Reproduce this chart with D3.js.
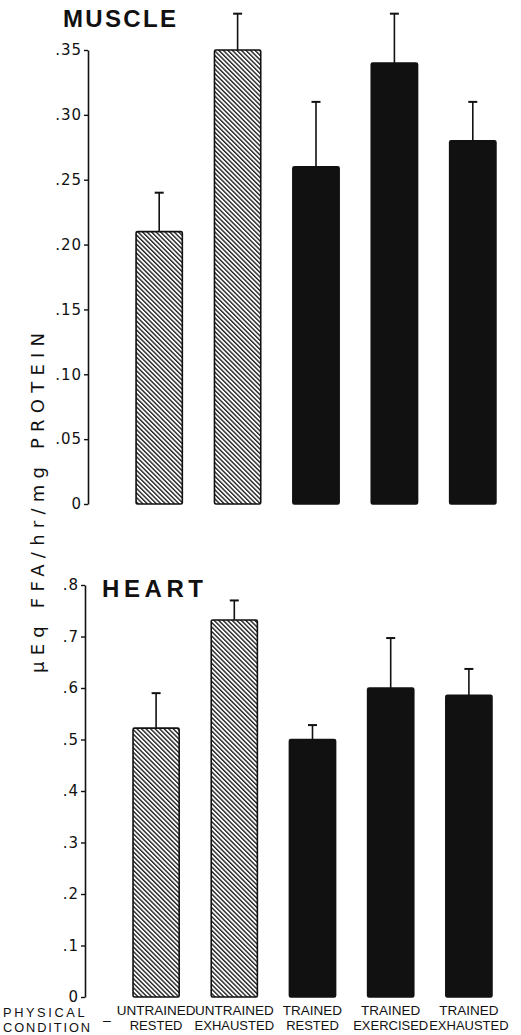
<!DOCTYPE html>
<html>
<head>
<meta charset="utf-8">
<script src="https://cdn.jsdelivr.net/npm/d3@7"></script>
<style>
  html, body { margin: 0; padding: 0; background: #fff; }
  svg { display: block; }
</style>
</head>
<body>
<svg id="chart" width="521" height="1035"></svg>
<script>
// ---- data ----
const categories = ["UNTRAINED RESTED", "UNTRAINED EXHAUSTED", "TRAINED RESTED", "TRAINED EXERCISED", "TRAINED EXHAUSTED"];
const catLine1 = ["UNTRAINED", "UNTRAINED", "TRAINED", "TRAINED", "TRAINED"];
const catLine2 = ["RESTED", "EXHAUSTED", "RESTED", "EXERCISED", "EXHAUSTED"];
const trained = [false, false, true, true, true];

const muscleMean = [0.21, 0.35, 0.26, 0.34, 0.28];
const muscleErr  = [0.03, 0.028, 0.05, 0.038, 0.03];
const muscleTicks = [0, 0.05, 0.10, 0.15, 0.20, 0.25, 0.30, 0.35];
const muscleTickLabels = ["0", ".05", ".10", ".15", ".20", ".25", ".30", ".35"];

const heartMean = [0.522, 0.732, 0.50, 0.60, 0.586];
const heartErr  = [0.068, 0.038, 0.028, 0.097, 0.051];
const heartTicks = [0, 0.1, 0.2, 0.3, 0.4, 0.5, 0.6, 0.7, 0.8];
const heartTickLabels = ["0", ".1", ".2", ".3", ".4", ".5", ".6", ".7", ".8"];

const yLabel = "\u03BCEq FFA/hr/mg PROTEIN";

// ---- drawing ----
const svg = d3.select("#chart");
const defs = svg.append("defs");
const pat = defs.append("pattern")
  .attr("id", "hatch")
  .attr("patternUnits", "userSpaceOnUse")
  .attr("width", 3.2).attr("height", 3.2)
  .attr("patternTransform", "rotate(-45)");
pat.append("rect").attr("width", 3.2).attr("height", 3.2).attr("fill", "#fff");
pat.append("rect").attr("x", 0).attr("y", 0).attr("width", 1.4).attr("height", 3.2).attr("fill", "#222");

const tickFont = "'DejaVu Sans', sans-serif";
const labFont = "'Liberation Sans', Arial, sans-serif";

function panel(cfg) {
  const g = svg.append("g");
  const x = d3.scaleBand().domain(categories).range(cfg.xRange)
    .paddingInner(0.41).paddingOuter(0.205);
  const y = d3.scaleLinear().domain(cfg.domain).range(cfg.yRange);

  const axis = d3.axisLeft(y)
    .tickValues(cfg.ticks)
    .tickFormat((d, i) => cfg.tickLabels[i])
    .tickSize(4).tickSizeOuter(0).tickPadding(2);
  const ax = g.append("g").attr("transform", `translate(${cfg.axisX},0)`).call(axis);
  ax.select(".domain").attr("stroke", "#111").attr("stroke-width", 1.6);
  ax.selectAll(".tick line").attr("stroke", "#111").attr("stroke-width", 1.4);
  ax.selectAll(".tick text")
    .attr("font-family", tickFont).attr("font-size", 15)
    .attr("letter-spacing", 1).attr("fill", "#111");

  // error bars
  const eb = g.selectAll(".err").data(cfg.mean).enter().append("g");
  eb.append("line")
    .attr("x1", (d, i) => x(categories[i]) + x.bandwidth() / 2)
    .attr("x2", (d, i) => x(categories[i]) + x.bandwidth() / 2)
    .attr("y1", d => y(d))
    .attr("y2", (d, i) => y(d + cfg.err[i]))
    .attr("stroke", "#111").attr("stroke-width", 1.6);
  eb.append("line")
    .attr("x1", (d, i) => x(categories[i]) + x.bandwidth() / 2 - 4.5)
    .attr("x2", (d, i) => x(categories[i]) + x.bandwidth() / 2 + 4.5)
    .attr("y1", (d, i) => y(d + cfg.err[i]))
    .attr("y2", (d, i) => y(d + cfg.err[i]))
    .attr("stroke", "#111").attr("stroke-width", 2);

  // bars
  g.selectAll(".bar").data(cfg.mean).enter().append("rect")
    .attr("x", (d, i) => x(categories[i]))
    .attr("y", d => y(d))
    .attr("width", x.bandwidth())
    .attr("height", d => y(0) - y(d))
    .attr("rx", 1.5)
    .attr("fill", (d, i) => trained[i] ? "#111" : "url(#hatch)")
    .attr("stroke", "#111").attr("stroke-width", 1.6);

  g.append("text")
    .attr("x", cfg.titleX).attr("y", cfg.titleY)
    .attr("font-family", labFont)
    .attr("font-weight", "bold").attr("font-size", 24)
    .attr("textLength", cfg.titleLen).attr("lengthAdjust", "spacing")
    .attr("fill", "#111")
    .text(cfg.title);
  return { x, y };
}

panel({
  title: "MUSCLE", titleX: 63, titleY: 27, titleLen: 113,
  mean: muscleMean, err: muscleErr,
  domain: [0, 0.35], yRange: [504, 50],
  ticks: muscleTicks, tickLabels: muscleTickLabels,
  axisX: 88, xRange: [120, 512]
});

const heart = panel({
  title: "HEART", titleX: 102, titleY: 597, titleLen: 101,
  mean: heartMean, err: heartErr,
  domain: [0, 0.8], yRange: [997, 585],
  ticks: heartTicks, tickLabels: heartTickLabels,
  axisX: 85, xRange: [117, 508]
});

// y-axis title
svg.append("text")
  .attr("transform", "translate(44,503) rotate(-90)")
  .attr("text-anchor", "middle")
  .attr("font-family", tickFont).attr("font-size", 18)
  .attr("textLength", 340).attr("lengthAdjust", "spacing")
  .attr("fill", "#111")
  .text(yLabel);

// category labels
const lab = svg.append("g")
  .attr("font-family", labFont)
  .attr("fill", "#111").attr("text-anchor", "middle");
catLine1.forEach((t, i) => {
  const cx = heart.x(categories[i]) + heart.x.bandwidth() / 2;
  lab.append("text").attr("x", cx).attr("y", 1015).attr("font-size", 13.5).text(t);
  lab.append("text").attr("x", cx).attr("y", 1030).attr("font-size", 13).text(catLine2[i]);
});

const pc = svg.append("g")
  .attr("font-family", labFont).attr("font-size", 12.8)
  .attr("fill", "#111");
pc.append("text").attr("x", 3).attr("y", 1017.2).attr("letter-spacing", 2.6).text("PHYSICAL");
pc.append("text").attr("x", 3).attr("y", 1032).attr("letter-spacing", 1.9).text("CONDITION");
pc.append("text").attr("x", 103).attr("y", 1025).attr("font-size", 14).text("\u2013");
</script>
</body>
</html>
